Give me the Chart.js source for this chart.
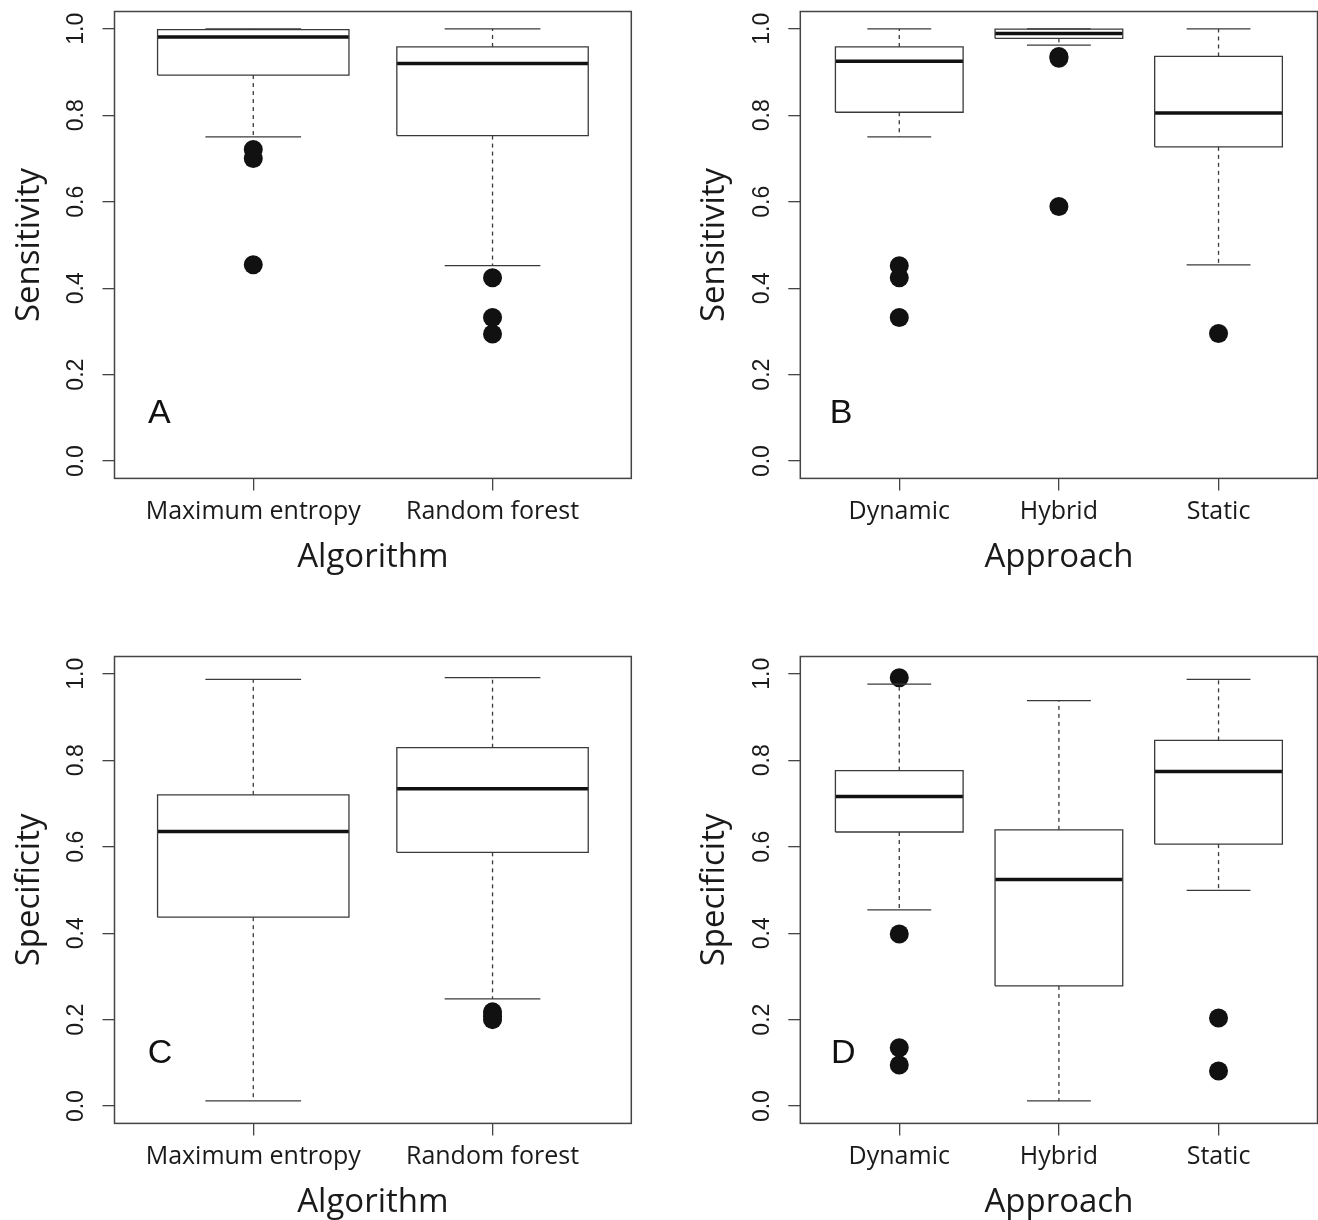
<!DOCTYPE html>
<html>
<head>
<meta charset="utf-8">
<title>Sensitivity and specificity by algorithm and approach</title>
<script src="https://cdn.jsdelivr.net/npm/chart.js@4.4.1/dist/chart.umd.min.js"></script>
<style>
  html, body { margin: 0; padding: 0; background: #fff; overflow: hidden; }
  #wrap { position: relative; width: 1318px; height: 1220px; overflow: hidden; }
  canvas { position: absolute; }
</style>
</head>
<body>
<div id="wrap">
  <canvas id="panelA" width="659" height="610" style="left:0px;top:0px"></canvas>
  <canvas id="panelB" width="659" height="610" style="left:659px;top:0px"></canvas>
  <canvas id="panelC" width="659" height="610" style="left:0px;top:645px"></canvas>
  <canvas id="panelD" width="659" height="610" style="left:659px;top:645px"></canvas>
</div>
<script>
// tick labels on the y axis
const yTicks = [0, 0.2, 0.4, 0.6, 0.8, 1.0];

const algorithms = ['Maximum entropy', 'Random forest'];
const approaches = ['Dynamic', 'Hybrid', 'Static'];

// box stats per group: [lower whisker, Q1, median, Q3, upper whisker]
const sensByAlgorithm = [
  [0.750, 0.893, 0.981, 0.998, 1.000],
  [0.452, 0.753, 0.920, 0.958, 1.000]
];
const sensByAlgorithmOut = [
  [0.721, 0.700, 0.454],
  [0.424, 0.332, 0.294]
];

const sensByApproach = [
  [0.750, 0.807, 0.925, 0.958, 1.000],
  [0.962, 0.978, 0.989, 0.999, 1.000],
  [0.454, 0.727, 0.805, 0.936, 1.000]
];
const sensByApproachOut = [
  [0.452, 0.424, 0.332],
  [0.936, 0.932, 0.589],
  [0.295]
];

const specByAlgorithm = [
  [0.012, 0.437, 0.635, 0.720, 0.987],
  [0.248, 0.587, 0.734, 0.829, 0.991]
];
const specByAlgorithmOut = [
  [],
  [0.218, 0.208, 0.200]
];

const specByApproach = [
  [0.454, 0.634, 0.716, 0.776, 0.976],
  [0.012, 0.278, 0.524, 0.639, 0.938],
  [0.499, 0.606, 0.774, 0.846, 0.987]
];
const specByApproachOut = [
  [0.991, 0.398, 0.135, 0.095],
  [],
  [0.204, 0.081]
];

const LINE = '#3a3a3a';
const INK = '#111';
const BOX_HALF = 0.4;   // boxwex 0.8
const CAP_HALF = 0.2;   // staplewex 0.5
const W = 659, H = 610;
const AREA = { t: 11.5, b: 478.4 };

function seg(points, extra) {
  return Object.assign({
    data: points.map(([x, y]) => ({ x, y })),
    showLine: true,
    pointRadius: 0,
    pointHoverRadius: 0,
    borderColor: LINE,
    borderWidth: 1.3,
    tension: 0,
    fill: false
  }, extra || {});
}

function boxDatasets(stats, outliers) {
  const ds = [];
  stats.forEach((s, i) => {
    const x = i + 1;
    const [lo, q1, med, q3, hi] = s;
    // whiskers
    ds.push(seg([[x, q3], [x, hi]], { borderDash: [4, 4] }));
    ds.push(seg([[x, q1], [x, lo]], { borderDash: [4, 4] }));
    // staples
    ds.push(seg([[x - CAP_HALF, hi], [x + CAP_HALF, hi]]));
    ds.push(seg([[x - CAP_HALF, lo], [x + CAP_HALF, lo]]));
    // box
    ds.push(seg([[x - BOX_HALF, q1], [x + BOX_HALF, q1], [x + BOX_HALF, q3],
                 [x - BOX_HALF, q3], [x - BOX_HALF, q1]]));
    // median
    ds.push(seg([[x - BOX_HALF, med], [x + BOX_HALF, med]], { borderColor: INK, borderWidth: 3.5 }));
  });
  const pts = [];
  outliers.forEach((vals, i) => vals.forEach(v => pts.push({ x: i + 1, y: v })));
  ds.push({
    data: pts,
    showLine: false,
    pointRadius: 9.5,
    pointHoverRadius: 9.5,
    pointBorderWidth: 0,
    pointBackgroundColor: INK,
    borderColor: INK
  });
  return ds;
}

const framePlugin = {
  id: 'frame',
  afterDraw(chart) {
    const { left, top, right, bottom } = chart.chartArea;
    const ctx = chart.ctx;
    ctx.save();
    ctx.strokeStyle = '#444';
    ctx.lineWidth = 1.5;
    ctx.strokeRect(left, top, right - left, bottom - top);
    ctx.restore();
  }
};

const letterPlugin = {
  id: 'letter',
  afterDraw(chart, args, opts) {
    const { left, bottom } = chart.chartArea;
    const ctx = chart.ctx;
    ctx.save();
    ctx.fillStyle = INK;
    ctx.font = '34px "Liberation Sans", Arial, sans-serif';
    ctx.textAlign = 'left';
    ctx.textBaseline = 'alphabetic';
    ctx.fillText(opts.text, left + opts.dx, bottom - opts.dy);
    ctx.restore();
  }
};

function makePanel(id, p) {
  const n = p.categories.length;
  const areaL = p.areaL;
  const areaR = p.areaR;
  new Chart(document.getElementById(id), {
    type: 'scatter',
    data: { datasets: boxDatasets(p.stats, p.outliers) },
    options: {
      responsive: false,
      animation: false,
      layout: {
        autoPadding: false,
        padding: { left: 0, top: AREA.t, right: W - areaR, bottom: 0 }
      },
      plugins: {
        legend: { display: false },
        tooltip: { enabled: false },
        letter: { text: p.letter, dx: p.dx, dy: p.dy }
      },
      scales: {
        x: {
          type: 'linear',
          min: 0.5 - 0.04 * n,
          max: n + 0.5 + 0.04 * n,
          afterBuildTicks: s => { s.ticks = p.categories.map((c, i) => ({ value: i + 1 })); },
          afterFit: s => {
            s.height = H - AREA.b;
            s.paddingLeft = 0;
            s.paddingRight = 0;
          },
          border: { display: false },
          grid: { drawOnChartArea: false, drawTicks: true, tickLength: 12, color: '#444', lineWidth: 1.3 },
          ticks: {
            callback: v => p.categories[Math.round(v) - 1],
            minRotation: 0, maxRotation: 0, autoSkip: false,
            padding: 6.5,
            color: '#1a1a1a',
            font: { family: '"Open Sans", sans-serif', size: 25 }
          },
          title: {
            display: true,
            text: p.xTitle,
            color: '#1a1a1a',
            font: { family: '"Open Sans", sans-serif', size: 33 },
            padding: { top: 0, bottom: 33 }
          }
        },
        y: {
          type: 'linear',
          min: -0.04,
          max: 1.04,
          afterBuildTicks: s => { s.ticks = yTicks.map(v => ({ value: v })); },
          afterFit: s => {
            s.width = areaL;
            s.paddingTop = 0;
            s.paddingBottom = 0;
          },
          border: { display: false },
          grid: { drawOnChartArea: false, drawTicks: true, tickLength: 12, color: '#444', lineWidth: 1.3 },
          ticks: {
            callback: v => v.toFixed(1),
            minRotation: 90, maxRotation: 90,
            crossAlign: 'center',
            padding: 9.5,
            color: '#1a1a1a',
            font: { family: '"Liberation Sans", Arial, sans-serif', size: 23 }
          },
          title: {
            display: true,
            text: p.yTitle,
            color: '#1a1a1a',
            font: { family: '"Open Sans", sans-serif', size: 33 },
            padding: { top: 9.4 + (areaL - 114.5), bottom: 0 }
          }
        }
      }
    },
    plugins: [framePlugin, letterPlugin]
  });
}

makePanel('panelA', {
  categories: algorithms, stats: sensByAlgorithm, outliers: sensByAlgorithmOut,
  xTitle: 'Algorithm', yTitle: 'Sensitivity', letter: 'A',
  areaL: 114.5, areaR: 631.3, dx: 33.5, dy: 55.4
});
makePanel('panelB', {
  categories: approaches, stats: sensByApproach, outliers: sensByApproachOut,
  xTitle: 'Approach', yTitle: 'Sensitivity', letter: 'B',
  areaL: 141.3, areaR: 658.5, dx: 29.5, dy: 55.4
});
makePanel('panelC', {
  categories: algorithms, stats: specByAlgorithm, outliers: specByAlgorithmOut,
  xTitle: 'Algorithm', yTitle: 'Specificity', letter: 'C',
  areaL: 114.5, areaR: 631.3, dx: 33.3, dy: 60
});
makePanel('panelD', {
  categories: approaches, stats: specByApproach, outliers: specByApproachOut,
  xTitle: 'Approach', yTitle: 'Specificity', letter: 'D',
  areaL: 141.3, areaR: 658.5, dx: 30.8, dy: 60
});
</script>
</body>
</html>
